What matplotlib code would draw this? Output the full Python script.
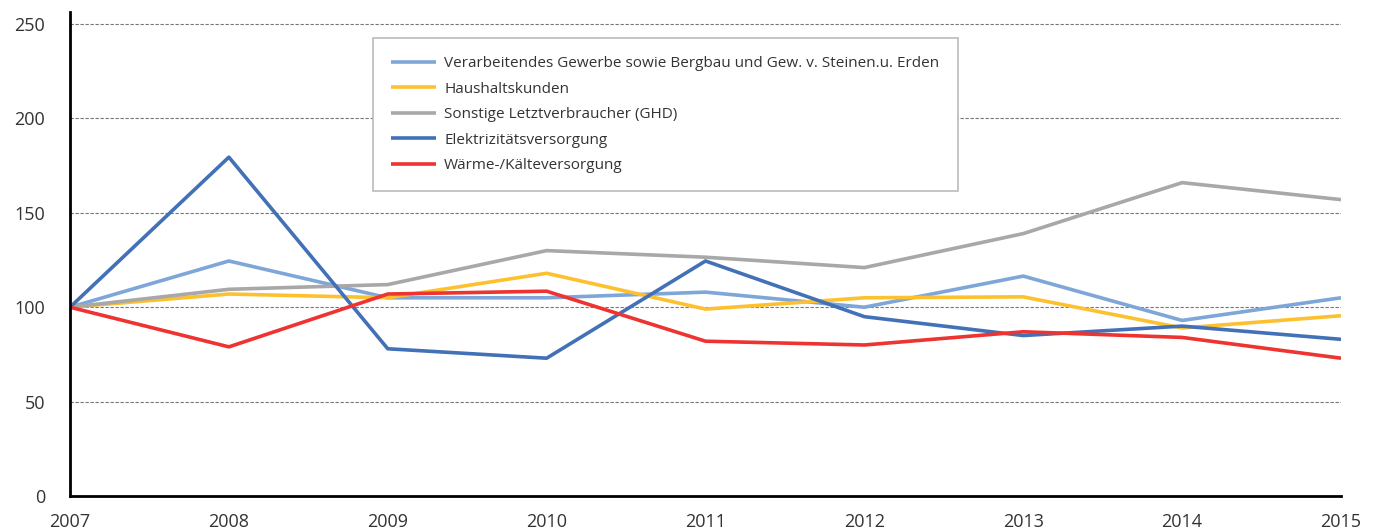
import matplotlib
matplotlib.use("Agg")
import matplotlib.pyplot as plt

years = [2007, 2008, 2009, 2010, 2011, 2012, 2013, 2014, 2015]
labels = [
    "Verarbeitendes Gewerbe sowie Bergbau und Gew. v. Steinen.u. Erden",
    "Haushaltskunden",
    "Sonstige Letztverbraucher (GHD)",
    "Elektrizitätsversorgung",
    "Wärme-/Kälteversorgung",
]
verarbeitend = [100, 124.5, 105, 105, 108, 100, 116.5, 93, 105]
haushalt = [100, 107, 105, 118, 99, 105, 105.5, 89, 95.5]
sonstige = [100, 109.5, 112, 130, 126.5, 121, 139, 166, 157]
elektrizitaet = [100, 179.5, 78, 73, 124.5, 95, 85, 90, 83]
waerme = [100, 79, 107, 108.5, 82, 80, 87, 84, 73]
series = [verarbeitend, haushalt, sonstige, elektrizitaet, waerme]
colors = ["#7EA6D8", "#FDC12F", "#A8A8A8", "#4271B7", "#EE3330"]
yticks = [0, 50, 100, 150, 200, 250]

plt.rcParams['font.family'] = ['Open Sans', 'DejaVu Sans']

fig = plt.figure(figsize=(13.81, 5.31), dpi=100)
ax = fig.add_axes([70/1381, 35/531, (1341-70)/1381, (496-12)/531])

for vals, c, lab in zip(series, colors, labels):
    ax.plot(years, vals, color=c, lw=2.6, label=lab, solid_capstyle='butt')

ax.set_xlim(2007, 2015)
ax.set_ylim(0, 256.4)
ax.set_yticks(yticks)
ax.set_xticks(years)
ax.set_yticklabels([str(v) for v in yticks], fontsize=13, color="#333333")
ax.set_xticklabels([str(y) for y in years], fontsize=13, color="#333333")
ax.tick_params(axis='both', length=0)
ax.tick_params(axis='y', pad=18)
ax.tick_params(axis='x', pad=12)
for yv in yticks[1:]:
    ax.axhline(yv, color="#777777", lw=0.8, ls=(0, (3, 1.5)), zorder=0)
for s in ['top', 'right']:
    ax.spines[s].set_visible(False)
ax.spines['left'].set_linewidth(2)
ax.spines['bottom'].set_linewidth(2)

leg = ax.legend(loc='upper left', bbox_to_anchor=((373-70)/1271, (496-38)/484),
                fontsize=11, frameon=True, fancybox=False, edgecolor="#BBBBBB",
                handlelength=2.9, handletextpad=0.55, labelspacing=0.68,
                borderpad=1.2, borderaxespad=0, framealpha=1)
leg.get_frame().set_linewidth(1.2)
for t in leg.get_texts():
    t.set_color("#333333")

fig.savefig("out.png", dpi=100)
